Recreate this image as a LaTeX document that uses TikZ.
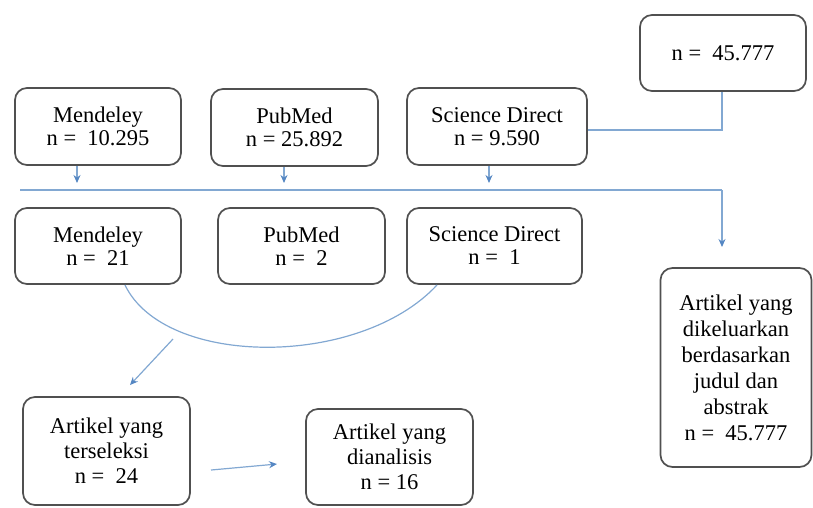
\documentclass[tikz,border=0pt]{standalone}
\usepackage{fontspec}
\setmainfont{Liberation Serif}
\usetikzlibrary{arrows.meta,calc}
\definecolor{boxline}{RGB}{80,80,80}
\definecolor{conn}{RGB}{130,168,210}
\definecolor{tipc}{RGB}{85,135,195}
\begin{document}
\begin{tikzpicture}[x=1pt,y=-1pt,
  box/.style={draw=boxline,line width=1.7pt,rounded corners=12pt,align=center,
    font=\fontsize{22.5}{23}\selectfont,inner sep=0pt},
  conline/.style={draw=conn,line width=1.2pt},
  arr/.style={conline,-{Stealth[length=8pt,width=7pt,color=tipc]}}]
\useasboundingbox (0,0) rectangle (813,507);
\node[box,minimum width=166pt,minimum height=77pt] (m1) at (98,126.5) {Mendeley\\n =~~10.295};
\node[box,minimum width=167pt,minimum height=77pt] (p1) at (294.5,127.5) {PubMed\\n = 25.892};
\node[box,minimum width=180pt,minimum height=77pt] (s1) at (497,126.5) {Science Direct\\n = 9.590};
\node[box,minimum width=166pt,minimum height=76pt] (tot) at (723,53) {n =~~45.777};
\node[box,minimum width=166pt,minimum height=76pt] (m2) at (98,246) {Mendeley\\n =~~21};
\node[box,minimum width=167pt,minimum height=76pt] (p2) at (301.5,246) {PubMed\\n =~~2};
\node[box,minimum width=175pt,minimum height=76pt] (s2) at (494.5,246) {Science Direct\\n =~~1};
\node[box,minimum width=151pt,minimum height=199pt,font=\fontsize{22.5}{26}\selectfont] (ex) at (736,367.5)
  {Artikel yang\\dikeluarkan\\berdasarkan\\judul dan\\abstrak\\n =~~45.777};
\node[box,minimum width=167pt,minimum height=108pt,font=\fontsize{22.5}{25}\selectfont] (sel) at (106.5,451) {Artikel yang\\terseleksi\\n =~~24};
\node[box,minimum width=167pt,minimum height=96pt,font=\fontsize{22.5}{25}\selectfont] (ana) at (389.5,457) {Artikel yang\\dianalisis\\n = 16};
% connectors
\coordinate (hl) at (20,190);
\coordinate (hr) at (722,190);
\coordinate (exin) at (722,247);
\coordinate (sdc) at (722,130);
\draw[conline] (s1.east |- sdc) -- (sdc) -- (tot.south -| sdc);
\draw[conline] (hl) -- (hr);
\draw[arr] (hr) -- (exin);
\coordinate (a1) at (77,183);
\coordinate (a2) at (284,183);
\coordinate (a3) at (489,183);
\draw[arr] (m1.south -| a1) -- (a1);
\draw[arr] (p1.south -| a2) -- (a2);
\draw[arr] (s1.south -| a3) -- (a3);
\coordinate (cl) at (125,285);
\coordinate (cr) at (437,285);
\draw[conline] (cl) .. controls (165,368) and (360,368) .. (cr);
\coordinate (d1) at (173,339);
\coordinate (d2) at (130,385);
\draw[arr] (d1) -- (d2);
\coordinate (e1) at (211,470);
\coordinate (e2) at (277,464);
\draw[arr] (e1) -- (e2);
\end{tikzpicture}
\end{document}
